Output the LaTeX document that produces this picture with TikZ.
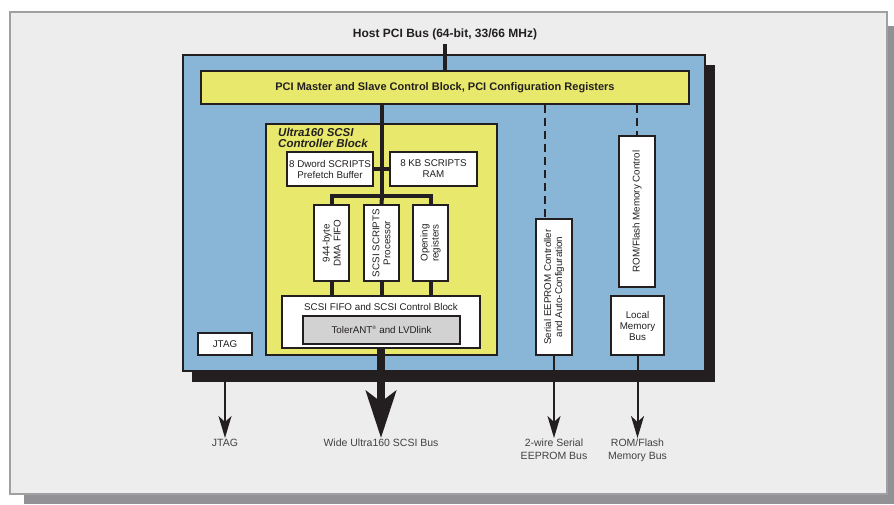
\documentclass[tikz,border=0pt]{standalone}
\usepackage{fontspec}
\setmainfont{Liberation Sans}
\usepackage{tikz}
\usetikzlibrary{arrows.meta, positioning, calc}

\definecolor{chipblue}{RGB}{137,181,214}
\definecolor{blockyellow}{RGB}{232,232,108}
\definecolor{linkgray}{RGB}{210,210,210}
\definecolor{pagegray}{RGB}{237,237,237}
\definecolor{framegray}{RGB}{160,160,162}
\definecolor{shadegray}{RGB}{146,146,150}
\definecolor{inkblack}{RGB}{35,31,32}

\begin{document}
\begin{tikzpicture}[x=1pt, y=-1pt,
    block/.style={draw=inkblack, line width=1.4pt, fill=white, inner sep=0pt},
    boxtext/.style={font=\fontsize{9.8}{11}\selectfont, align=center, text=inkblack},
    headtext/.style={font=\bfseries\fontsize{11}{13}\selectfont, align=center, text=inkblack},
    outlabel/.style={font=\fontsize{10.5}{12.5}\selectfont, align=center, text=inkblack!85, inner sep=1pt, anchor=north},
    bus/.style={draw=inkblack, line width=4pt},
    ctrlline/.style={draw=inkblack, line width=1.5pt, dash pattern=on 8pt off 5pt},
    thinarrow/.style={draw=inkblack, line width=2pt, -{Stealth[length=22pt, width=13pt, inset=6pt]}},
    bigarrow/.style={draw=inkblack, line width=8pt, -{Stealth[length=47pt, width=30pt, inset=11pt]}}
]
\useasboundingbox (0,0) rectangle (894,504);
\fill[white] (0,0) rectangle (894,504);

% Page frame and its shadow
\fill[shadegray] (24,26) rectangle (894,504);
\draw[draw=framegray, line width=1.6pt, fill=pagegray] (10,12) rectangle (887,494);

% Chip body
\fill[inkblack] (192,65) rectangle (715,382);
\node[draw=inkblack, line width=2pt, fill=chipblue, minimum width=522pt, minimum height=316pt, inner sep=0pt] (chip) at (444,213) {};

% Host bus and PCI block
\node[headtext, font=\bfseries\fontsize{12}{14}\selectfont, inner sep=4pt] (host) at (445,34) {Host PCI Bus (64-bit, 33/66 MHz)};
\node[block, headtext, fill=blockyellow, line width=2pt, minimum width=488pt, minimum height=33pt] (pci) at (445,87.5) {PCI Master and Slave Control Block, PCI Configuration Registers};
\draw[bus] (host) -- (pci);

% Ultra160 SCSI controller block
\node[block, fill=blockyellow, line width=2pt, minimum width=231pt, minimum height=231pt] (ultra) at (381.5,239.5) {};
\node[font=\bfseries\itshape\fontsize{11.5}{10.5}\selectfont, align=left, text=inkblack, inner sep=0pt, anchor=north west] (ultra-title) at ([shift={(13,5)}]ultra.north west) {Ultra160 SCSI\\Controller Block};

\node[block, boxtext, minimum width=86pt, minimum height=34pt] (prefetch) at (330,169) {8 Dword SCRIPTS\\Prefetch Buffer};
\node[block, boxtext, minimum width=87pt, minimum height=34pt] (ram) at (433.5,169) {8 KB SCRIPTS\\RAM};

\node[block, minimum width=35pt, minimum height=76pt] (dma) at (331.5,243) {};
\node[boxtext, rotate=90] (dma-text) at (dma) {944-byte\\DMA FIFO};
\node[block, minimum width=35pt, minimum height=76pt] (scripts) at (381.5,243) {};
\node[boxtext, rotate=90] (scripts-text) at (scripts) {SCSI SCRIPTS\\Processor};
\node[block, minimum width=35pt, minimum height=76pt] (opening) at (430.5,243) {};
\node[boxtext, rotate=90] (opening-text) at (opening) {Opening\\registers};

\node[block, minimum width=198pt, minimum height=52pt] (fifo) at (381,322) {};
\node[boxtext, anchor=north, inner sep=0pt] (fifo-text) at ([yshift=-8pt]fifo.north) {SCSI FIFO and SCSI Control Block};
\node[block, boxtext, fill=linkgray, minimum width=157pt, minimum height=28pt] (tolerant) at (381.5,330) {TolerANT\textsuperscript{\tiny ®} and LVDlink};

% Internal buses
\coordinate (split) at (382,196);
\draw[bus] (pci.south -| split) -- (split);
\draw[bus] (prefetch) -- (ram);
\draw[bus] (dma.north) |- (split) -| (opening.north);
\draw[bus] (scripts.north) -- (split);
\draw[bus] (dma.south) -- (dma.south |- fifo.north);
\draw[bus] (scripts.south) -- (scripts.south |- fifo.north);
\draw[bus] (opening.south) -- (opening.south |- fifo.north);

% Side blocks
\node[block, boxtext, minimum width=54pt, minimum height=22pt] (jtagbox) at (225,344) {JTAG};
\node[block, minimum width=36pt, minimum height=136pt] (eeprom) at (554,287) {};
\node[boxtext, rotate=90] (eeprom-text) at (eeprom) {Serial EEPROM Controller\\and Auto-Configuration};
\node[block, minimum width=36pt, minimum height=151pt] (romctl) at (637,211.5) {};
\node[boxtext, rotate=90] (romctl-text) at (romctl) {ROM/Flash Memory Control};
\node[block, boxtext, minimum width=53pt, minimum height=59pt] (localbus) at (637.5,325.5) {Local\\Memory\\Bus};

\draw[ctrlline] ([xshift=-9pt]eeprom.north |- pci.south) -- ([xshift=-9pt]eeprom.north);
\draw[ctrlline] (romctl.north |- pci.south) -- (romctl.north);

% External buses
\node[outlabel] (jtag) at (225,438) {JTAG};
\node[outlabel] (wide) at (381,438) {Wide Ultra160 SCSI Bus};
\node[outlabel] (eeprom-bus) at (554,438) {2-wire Serial\\EEPROM Bus};
\node[outlabel] (rom-bus) at (637.5,438) {ROM/Flash\\Memory Bus};

\draw[thinarrow] (jtagbox.south |- chip.south) -- (jtag);
\draw[bigarrow] (fifo) -- (wide);
\draw[thinarrow] (eeprom) -- (eeprom-bus);
\draw[thinarrow] (localbus) -- (rom-bus);
\end{tikzpicture}
\end{document}
